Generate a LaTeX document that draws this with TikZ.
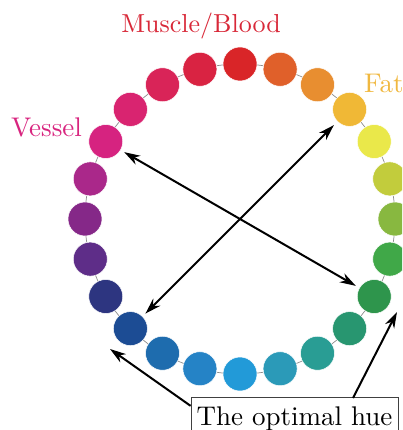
\documentclass[tikz,border=0pt]{standalone}
\usepackage{fontspec}
\setmainfont{lmroman10-regular.otf}
\usetikzlibrary{arrows.meta,calc}
\definecolor{c0}{HTML}{D92528}
\definecolor{c1}{HTML}{E0602A}
\definecolor{c2}{HTML}{E88E30}
\definecolor{c3}{HTML}{F0B836}
\definecolor{c4}{HTML}{EAE84A}
\definecolor{c5}{HTML}{C2CC3C}
\definecolor{c6}{HTML}{88B840}
\definecolor{c7}{HTML}{40A848}
\definecolor{c8}{HTML}{2E954C}
\definecolor{c9}{HTML}{289670}
\definecolor{c10}{HTML}{299D94}
\definecolor{c11}{HTML}{2B9AB8}
\definecolor{c12}{HTML}{229AD8}
\definecolor{c13}{HTML}{2583C6}
\definecolor{c14}{HTML}{1E6CAE}
\definecolor{c15}{HTML}{1C4C94}
\definecolor{c16}{HTML}{2D3580}
\definecolor{c17}{HTML}{5E2D88}
\definecolor{c18}{HTML}{852888}
\definecolor{c19}{HTML}{AA288A}
\definecolor{c20}{HTML}{D62380}
\definecolor{c21}{HTML}{D92470}
\definecolor{c22}{HTML}{D92458}
\definecolor{c23}{HTML}{D92342}
\definecolor{musclecol}{HTML}{D82838}
\definecolor{vesselcol}{HTML}{D8257F}
\definecolor{fatcol}{HTML}{F0B840}
\tikzset{
  huedot/.style={circle, minimum size=34pt, inner sep=0pt, draw=white, line width=0.5pt},
  hueline/.style={line width=2pt, {Stealth[length=16pt,width=10pt,inset=5pt]}-{Stealth[length=16pt,width=10pt,inset=5pt]}},
  boxline/.style={line width=2pt, -{Stealth[length=16pt,width=10pt,inset=5pt]}},
  lbl/.style={font=\fontsize{26}{30}\selectfont, inner sep=0pt}
}
\begin{document}
\begin{tikzpicture}[x=1pt,y=-1pt]
\useasboundingbox (0,0) rectangle (402,430);
\clip (0,0) rectangle (402,430);
\coordinate (ctr) at (240,219);
\draw[black!45, line width=0.7pt] (ctr) circle[radius=155];
\foreach \i in {0,...,23}{
  \node[huedot, fill=c\i] (d\i) at ($(ctr)+({sin(15*\i)*155},{-cos(15*\i)*155})$) {};
}
\node[lbl, text=musclecol, anchor=base] (muscle) at (201,33) {Muscle/Blood};
\node[lbl, text=vesselcol, anchor=base west, font=\fontsize{27}{30}\selectfont] (vessel) at (11,137) {Vessel};
\node[lbl, text=fatcol, anchor=base west, font=\fontsize{27}{30}\selectfont] (fat) at (364,93) {Fat};
\draw[hueline, shorten <=4pt, shorten >=4pt] (d20) -- (d8);
\draw[hueline, shorten <=5pt, shorten >=4pt] (d3) -- (d15);
\node[draw=black!75, line width=0.8pt, fill=white, anchor=base, inner xsep=4pt, inner ysep=9pt,
      minimum width=207pt, font=\fontsize{27}{30}\selectfont] (box) at (294.5,425) {The optimal hue};
\coordinate (t1) at (110,349);
\coordinate (t2) at (397,312);
\coordinate (s1) at ($(box.north west)+(0,9)$);
\coordinate (s2) at (353,398);
\draw[boxline] (s1) -- (t1);
\draw[boxline] (s2) -- (t2);
\end{tikzpicture}
\end{document}
